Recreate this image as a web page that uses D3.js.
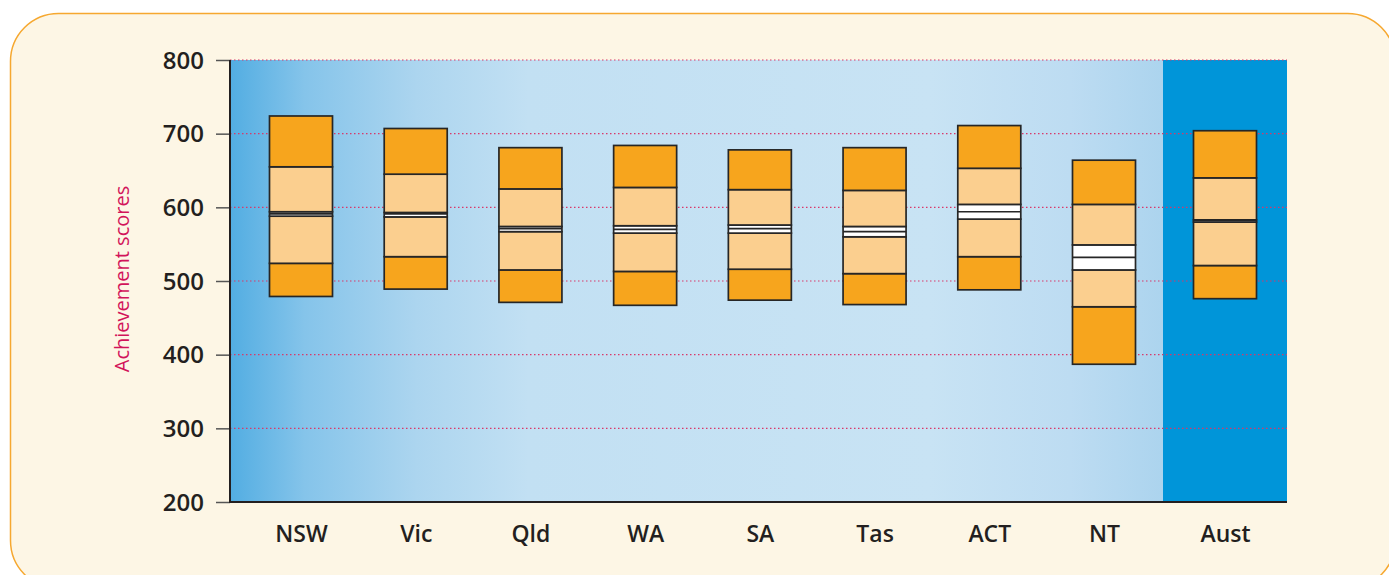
<!DOCTYPE html>
<html>
<head>
<meta charset="utf-8">
<script src="https://cdn.jsdelivr.net/npm/d3@7"></script>
<style>
  html, body { margin: 0; padding: 0; background: #ffffff; }
  svg { display: block; }
</style>
</head>
<body>
<svg id="chart" width="1389" height="575"></svg>
<script>
// ---- Data ----
const categories = ["NSW", "Vic", "Qld", "WA", "SA", "Tas", "ACT", "NT", "Aust"];
const p5     = [479, 489, 471, 467, 474, 468, 488, 387, 476];
const p25    = [524, 533, 515, 513, 516, 510, 533, 465, 521];
const ciLow  = [588, 587, 567, 565, 565, 560, 584, 515, 580];
const means  = [591, 591, 571, 570, 571, 567, 594, 532, 582];
const ciHigh = [594, 593, 574, 575, 576, 574, 604, 549, 583];
const p75    = [655, 645, 625, 627, 624, 623, 653, 604, 640];
const p95    = [724, 707, 681, 684, 678, 681, 711, 664, 704];
const yTicks = [200, 300, 400, 500, 600, 700, 800];
const yTitle = "Achievement scores";
const totalCategory = "Aust";

const svg = d3.select("#chart");

// outer rounded panel
svg.append("rect")
  .attr("x", 10.5).attr("y", 13.5)
  .attr("width", 1385).attr("height", 575)
  .attr("rx", 48).attr("ry", 48)
  .attr("fill", "#fdf6e5")
  .attr("stroke", "#f6a830").attr("stroke-width", 1.5);

const plotL = 230, plotR = 1287, plotT = 60, plotB = 502, splitX = 1163;
const y = d3.scaleLinear().domain([200, 800]).range([plotB, plotT]);
const states = categories.filter(c => c !== totalCategory);
const xStates = d3.scalePoint().domain(states).range([301, 1104]);
const xTotal = d3.scalePoint().domain([totalCategory]).range([splitX, plotR]).padding(0.5);
const x = c => c === totalCategory ? xTotal(c) : xStates(c);
const boxW = 63;

// background gradient
const defs = svg.append("defs");
const grad = defs.append("linearGradient").attr("id", "bg")
  .attr("gradientUnits", "userSpaceOnUse")
  .attr("x1", plotL).attr("x2", splitX).attr("y1", 0).attr("y2", 0);
[[0, "#52ade2"], [0.08, "#85c4ea"], [0.2, "#acd5ef"], [0.32, "#c2e0f3"],
 [0.75, "#c8e3f4"], [0.9, "#bddcf2"], [1, "#acd4ee"]].forEach(([o, c]) =>
  grad.append("stop").attr("offset", o).attr("stop-color", c));

svg.append("rect").attr("x", plotL).attr("y", plotT)
  .attr("width", splitX - plotL).attr("height", plotB - plotT)
  .attr("fill", "url(#bg)");
svg.append("rect").attr("x", splitX).attr("y", plotT)
  .attr("width", plotR - splitX).attr("height", plotB - plotT)
  .attr("fill", "#0095d9");

// dotted gridlines
svg.append("g").selectAll("line")
  .data(yTicks.filter(t => t > 200))
  .join("line")
  .attr("x1", plotL).attr("x2", plotR)
  .attr("y1", d => y(d)).attr("y2", d => y(d))
  .attr("stroke", "#d8386a")
  .attr("stroke-width", 1.2)
  .attr("stroke-dasharray", "1.5,2.5");

// boxes
const rows = categories.map((c, i) => ({
  c, p5: p5[i], p25: p25[i], lo: ciLow[i], m: means[i], hi: ciHigh[i], p75: p75[i], p95: p95[i]
}));
const strokeC = "#262626";
const g = svg.append("g");
rows.forEach(d => {
  const x0 = x(d.c) - boxW / 2;
  const segs = [
    [d.p5, d.p25, "#f7a51d"],
    [d.p25, d.lo, "#fbcf8f"],
    [d.lo, d.hi, "#ffffff"],
    [d.hi, d.p75, "#fbcf8f"],
    [d.p75, d.p95, "#f7a51d"]
  ];
  segs.forEach(([a, b, col]) => {
    g.append("rect")
      .attr("x", x0).attr("width", boxW)
      .attr("y", y(b)).attr("height", y(a) - y(b))
      .attr("fill", col)
      .attr("stroke", strokeC).attr("stroke-width", 1.7);
  });
  g.append("line")
    .attr("x1", x0).attr("x2", x0 + boxW)
    .attr("y1", y(d.m)).attr("y2", y(d.m))
    .attr("stroke", strokeC).attr("stroke-width", 1.7);
});

// axes
const yAxis = d3.axisLeft(y).tickValues(yTicks).tickSize(14).tickPadding(12).tickFormat(d3.format("d"));
const ya = svg.append("g").attr("transform", `translate(${plotL},0)`).call(yAxis);
ya.select(".domain").remove();
ya.selectAll(".tick line").attr("stroke", "#555").attr("stroke-width", 1.5);
ya.selectAll(".tick text")
  .attr("font-family", "'Open Sans', sans-serif")
  .attr("font-size", 24).attr("font-weight", 600)
  .attr("fill", "#231f20").attr("dy", "0.34em");

svg.append("line").attr("x1", plotL).attr("x2", plotL)
  .attr("y1", plotT).attr("y2", plotB + 1)
  .attr("stroke", "#231f20").attr("stroke-width", 2);
svg.append("line").attr("x1", plotL - 1).attr("x2", plotR)
  .attr("y1", plotB).attr("y2", plotB)
  .attr("stroke", "#231f20").attr("stroke-width", 2);

const xa = svg.append("g").attr("transform", `translate(0,${plotB})`);
xa.append("g").call(d3.axisBottom(xStates).tickSize(0).tickPadding(0));
xa.append("g").call(d3.axisBottom(xTotal).tickSize(0).tickPadding(0));
xa.selectAll(".domain").remove();
xa.selectAll(".tick text")
  .attr("y", 40).attr("dy", 0)
  .attr("font-family", "'Open Sans', sans-serif")
  .attr("font-size", 23).attr("font-weight", 600)
  .attr("fill", "#231f20");

// y title
svg.append("text")
  .attr("transform", `translate(129,${279}) rotate(-90)`)
  .attr("text-anchor", "middle")
  .attr("font-family", "'Open Sans', sans-serif")
  .attr("font-size", 20)
  .attr("fill", "#d2145a")
  .text(yTitle);
</script>
</body>
</html>
